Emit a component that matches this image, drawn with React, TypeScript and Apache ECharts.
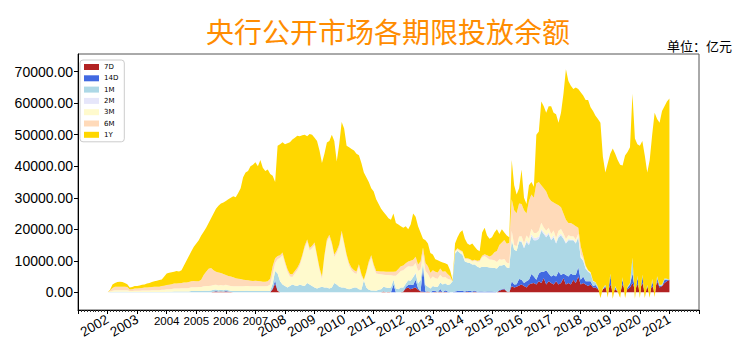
import React, { useEffect, useRef } from "react";
import * as echarts from "echarts";

const titleText = "央行公开市场各期限投放余额";
const unitText = "单位：亿元";
const seriesNames = ["7D", "14D", "1M", "2M", "3M", "6M", "1Y"];
const seriesColors = ["#B22222", "#4169E1", "#ADD8E6", "#E6E6FA", "#FFFACD", "#FFDAB9", "#FFD700"];
const axisStartYear = 2001;
const axisEndYear = 2022;
const firstYear = 2002; // monthly observations from Jan 2002 to Jan 2021
const yTickValues = [0, 10000, 20000, 30000, 40000, 50000, 60000, 70000];
const flatYears = [2004, 2005, 2006, 2007];

// 7D
const d7 = [
  0,0,0,0,0,0,0,0,0,0,0,0, // 2002
  0,0,0,0,0,0,0,0,0,0,0,0, // 2003
  0,0,0,0,0,0,0,0,0,0,0,0, // 2004
  0,0,0,0,0,0,0,200,300,200,300,200, // 2005
  300,200,100,0,0,0,0,0,0,0,0,0, // 2006
  0,0,0,0,0,0,0,1000,2800,500,0,0, // 2007
  0,0,0,0,0,0,0,0,0,0,0,0, // 2008
  0,0,0,0,0,0,0,0,0,0,0,0, // 2009
  0,0,0,0,0,0,0,0,0,0,0,0, // 2010
  0,0,0,0,300,0,200,0,0,0,0,0, // 2011
  300,1200,1500,1000,1300,1500,800,300,200,0,300,0, // 2012
  0,200,0,300,0,200,0,0,0,0,0,0, // 2013
  0,0,200,0,0,300,0,0,0,0,0,0, // 2014
  0,0,0,500,800,1000,300,0,2000,1500,1800,2200, // 2015
  2500,2000,1500,2500,2800,3000,2500,3500,3000,4500,2500,3500, // 2016
  3000,2500,3500,2500,3000,4500,2500,3000,2500,4000,3000,5000, // 2017
  2500,3000,2500,2000,2500,1500,1500,1000,300,1000,1500,200, // 2018
  2500,500,1000,300,300,2500,800,1000,1500,3000,1000,2500, // 2019
  1000,3000,500,1500,300,2000,500,3500,1500,2000,3000,3500, // 2020
  4000, // 2021
];

// 14D
const d14 = [
  0,0,0,0,0,0,0,0,0,0,0,0,
  0,0,0,0,0,0,0,0,0,0,0,0,
  0,0,0,0,0,0,0,0,0,0,0,0,
  0,0,0,0,0,0,0,0,100,0,0,0,
  100,100,0,0,0,0,0,0,0,0,0,0,
  0,0,0,0,0,0,0,300,1000,0,0,0,
  0,0,0,0,0,0,0,0,0,0,0,0,
  0,0,0,0,0,0,0,0,0,0,0,0,
  0,0,0,0,0,0,0,0,0,0,0,0,
  0,0,0,0,0,0,0,0,2500,0,0,0,
  0,500,800,1500,1000,2500,500,0,7500,300,0,0,
  500,300,0,800,0,500,300,0,0,300,400,500,
  400,300,300,500,300,300,200,300,300,200,300,300,
  300,200,0,300,200,300,0,0,1500,1000,800,2000,
  1500,1000,2000,1500,3000,2000,1500,2500,3500,2000,4500,2500,
  2000,3000,1500,4000,2500,1500,3000,2000,3500,1500,2500,3000,
  1500,2000,1000,1500,1000,500,800,300,0,0,500,0,
  3000,0,500,0,0,1500,0,500,1000,3000,0,2000,
  0,2000,0,500,0,1500,0,1000,500,0,1000,500,
  0,
];

// 1M
const m1 = [
  0,100,100,200,200,200,200,200,200,100,100,100,
  100,100,100,100,100,100,100,100,100,100,100,100,
  200,200,200,300,300,300,300,300,300,300,400,400,
  400,400,400,500,500,500,600,600,500,500,500,500,
  500,400,400,400,400,400,400,400,500,500,400,400,
  400,400,400,400,400,400,500,1500,3000,5500,3500,2500,
  2000,1500,2000,2500,2200,2000,2500,2200,2000,3000,2500,2000,
  1500,1200,1500,1800,1500,1500,1200,1500,3000,2500,1800,1500,
  1500,1200,1000,1200,1500,1500,1000,800,3800,1500,800,600,
  600,500,800,1000,1500,1500,1200,1500,1500,1200,1000,1500,
  1200,1000,1500,1200,2500,2000,1500,3500,1500,2000,1500,1200,
  1500,1200,1800,2000,2500,2200,2000,2600,3500,12000,12800,12000,
  11500,9500,9000,8800,8500,8200,8000,7500,7800,7800,7700,7600,
  7500,7500,7600,7700,7500,7500,7600,7700,13000,11000,10500,12000,
  12000,11000,12500,11000,12000,11500,12500,11000,13000,12000,10500,12500,
  11500,12000,10500,11000,12500,11000,10000,11500,10500,11000,10000,9500,
  7000,5000,4000,3000,2500,1500,800,500,0,300,400,0,
  500,0,500,0,0,800,0,300,500,5000,0,800,
  300,600,0,400,0,800,0,600,300,500,400,300,
  0,
];

// 2M
const m2 = [
  0,0,0,0,0,0,0,0,0,0,0,0,
  0,0,0,0,0,0,0,0,0,0,0,0,
  0,0,0,0,0,0,0,0,0,0,0,0,
  0,0,0,0,0,0,0,0,0,0,0,0,
  0,0,0,0,0,0,0,0,0,0,0,0,
  0,0,0,0,0,0,0,0,0,0,0,0,
  0,0,0,0,0,0,0,0,0,0,0,0,
  0,0,0,0,0,0,0,0,0,0,0,0,
  0,0,0,0,0,0,0,0,0,0,0,0,
  0,0,0,0,0,0,0,0,0,0,0,0,
  0,0,0,0,0,300,0,0,0,0,0,0,
  0,0,0,0,0,0,0,0,0,0,0,0,
  0,0,0,0,0,0,0,0,0,0,0,0,
  0,0,0,0,0,0,0,0,0,0,0,0,
  300,400,500,600,600,800,800,700,600,600,500,500,
  500,600,500,500,600,500,400,400,300,300,300,300,
  300,200,200,200,100,0,0,0,0,0,0,0,
  0,0,0,0,0,0,0,0,0,0,0,0,
  0,0,0,0,0,0,0,0,0,0,0,0,
  0,
];

// 3M
const m3 = [
  0,200,400,500,500,500,500,500,500,300,300,400,
  400,400,500,500,500,500,600,600,600,600,700,700,
  800,800,900,900,900,900,1000,1000,1000,1100,1200,1200,
  1200,1300,1300,1400,1500,1500,1500,1500,1500,1500,1500,1500,
  1500,1500,1500,1500,1500,1500,1500,1500,1500,1500,1500,1500,
  1500,1500,1500,1500,1500,1600,2000,3000,2500,4500,7500,9300,
  7000,5000,3000,2400,3800,5000,6000,8800,12000,13000,10800,12000,
  13500,9800,5500,2400,9500,14500,16300,13500,8200,10000,12600,17200,
  13500,10000,7500,5800,4700,4300,7100,4200,0,4500,8200,10400,
  7400,5500,5000,4700,3800,4000,4100,3900,1300,4100,5000,5300,
  5500,5000,4500,4500,3500,3000,4000,3500,3000,4500,4000,3000,
  3000,2800,2500,2500,2200,2000,2000,1500,0,500,500,600,
  800,800,1000,1000,1000,1200,1500,2000,3000,3500,3000,2500,
  2500,2500,2000,2000,1800,1800,1500,1500,3000,1500,1500,1500,
  1500,1200,1500,1500,1800,1500,1500,1800,2000,1500,1500,1500,
  1500,1500,1200,1500,1500,1200,1000,1200,1000,1000,1000,800,
  800,500,500,300,300,200,100,0,-2100,0,0,-1800,
  0,-2500,0,0,-2000,0,-2600,0,0,0,-3000,0,
  -3100,0,-2300,0,-2000,0,-2000,0,0,0,0,0,
  0,
];

// 6M
const m6 = [
  0,300,900,1100,1100,1100,1100,1100,1000,500,600,700,
  700,800,800,900,900,1000,1000,1100,1100,1100,1200,1300,
  1300,1400,1500,1600,1600,1700,1700,1800,1800,1900,1900,2000,
  1900,1800,2300,3600,4500,5500,5600,4700,4100,4100,3800,3600,
  3100,3000,3000,2900,2600,2400,2300,2100,1900,1800,1800,1700,
  1800,1700,1600,1500,1500,1500,1800,2500,1500,1000,800,800,
  800,800,800,800,800,800,800,800,800,800,800,800,
  800,800,800,800,800,800,800,800,800,800,800,800,
  800,800,800,800,800,800,800,800,200,600,800,800,
  800,800,900,900,1000,1000,1000,1100,1200,1300,1400,1500,
  1500,1500,1500,1800,2000,2000,2000,2500,2000,2500,2500,2000,
  2000,2000,2000,2000,1800,1800,1500,1000,0,300,300,300,
  300,300,300,300,300,300,300,400,500,600,800,1000,
  1500,2500,3500,4500,5500,6000,6000,6500,10000,11000,10500,10500,
  10200,10400,7000,11900,10800,11200,15700,15500,11900,12400,12500,9500,
  10500,8900,10800,8100,6900,6300,6100,3900,4200,3700,4200,1900,
  2500,1000,300,0,0,0,0,0,0,0,0,0,
  0,0,0,0,0,0,0,0,0,0,0,0,
  0,0,0,0,0,0,0,0,0,0,0,0,
  0,
];

// 1Y
const y1 = [
  0,200,1100,1200,1500,1600,1500,1200,900,600,700,800,
  800,900,1000,1000,1300,1400,1600,1700,1900,2100,2100,2900,
  3700,3800,3800,3700,4000,3700,4000,5400,6900,8200,9500,10900,
  12000,13000,14000,13700,14000,14500,15800,18000,20000,21200,22100,22700,
  23500,24300,25000,25700,25700,27200,28800,32500,34100,34700,36300,36900,
  37600,36400,38500,36100,35100,35500,33200,28700,24200,35000,35200,35000,
  37200,40000,41800,42800,42200,41900,40200,38000,35200,32700,36100,35200,
  33200,36200,37200,36000,32200,30700,29700,34200,36000,28200,31800,34500,
  36200,34500,36700,37700,38000,37400,34600,35200,34000,29900,25200,21200,
  23200,22700,21300,19900,18900,18000,17000,16500,18500,15400,14100,12700,
  12000,11800,10200,11500,14700,12700,12200,9200,2800,7200,7200,6300,
  5000,4000,3900,2200,3000,2500,3000,1900,500,2400,3500,5600,
  6700,6100,4700,4400,5400,4200,3500,2800,7400,8400,6200,5600,
  5700,6300,6900,3500,4200,2400,2600,1800,12500,8000,5900,4800,
  11000,4000,3000,5000,4000,3500,15500,16000,26500,26000,25000,29000,
  30000,28500,28500,26200,30000,38000,47800,45000,43500,43000,44000,44000,
  48900,50700,52500,54000,52300,53800,52800,53200,55600,41700,35600,42600,
  38000,47600,42000,41700,42200,35400,45200,42700,43000,52000,50800,41700,
  48300,42400,45200,35600,43700,45700,58500,49900,51500,55000,54600,56200,
  57500,
];

const seriesValues = [d7, d14, m1, m2, m3, m6, y1];
// monthly category slots covering the whole axis span, 2001-01 .. 2022-01
const monthSlots = Array.from(
  { length: (axisEndYear - axisStartYear) * 12 + 1 },
  (_, j) => axisStartYear + j / 12
);
const offset = (firstYear - axisStartYear) * 12;

export default function App() {
  const ref = useRef<HTMLDivElement>(null);

  useEffect(() => {
    document.body.style.margin = "0";
    if (!ref.current) return;
    const chart = echarts.init(ref.current, undefined, { renderer: "svg" });
    const axisFont = "Liberation Sans, Arial, sans-serif";
    const yearAxisBase = {
      type: "value",
      min: axisStartYear,
      max: axisEndYear,
      interval: 1,
      position: "bottom",
      splitLine: { show: false },
    };
    chart.setOption({
      animation: false,
      backgroundColor: "#ffffff",
      title: {
        text: titleText,
        left: 206,
        top: 17,
        padding: 0,
        textStyle: {
          fontSize: 28,
          fontWeight: "normal",
          color: "#FF8C00",
          fontFamily: "Noto Sans CJK SC",
        },
      },
      graphic: [
        {
          type: "text",
          left: 667,
          top: 39,
          style: {
            text: unitText,
            fontSize: 13,
            fill: "#000",
            fontFamily: "Noto Sans CJK SC",
          },
        },
      ],
      legend: {
        orient: "vertical",
        left: 80,
        top: 60,
        padding: [3, 6, 3, 4],
        itemWidth: 15,
        itemHeight: 6,
        itemGap: 3.3,
        icon: "rect",
        borderColor: "#cccccc",
        borderWidth: 1,
        borderRadius: 3,
        backgroundColor: "#ffffff",
        data: seriesNames,
        textStyle: { fontSize: 7, lineHeight: 8, color: "#000", fontFamily: "DejaVu Sans" },
      },
      grid: {
        left: 78,
        right: 51,
        top: 54,
        bottom: 44,
        show: true,
        borderColor: "#555",
        borderWidth: 1,
      },
      xAxis: [
        {
          type: "category",
          data: monthSlots,
          boundaryGap: false,
          show: false,
          axisLine: { onZero: false },
        },
        {
          ...yearAxisBase,
          axisLine: { show: true, onZero: false, lineStyle: { color: "#000" } },
          axisTick: { show: true, length: 4, lineStyle: { color: "#000" } },
          minorTick: { show: true, splitNumber: 10, length: 2, lineStyle: { color: "#333" } },
          axisLabel: {
            rotate: 30,
            margin: 8,
            fontSize: 13.5,
            color: "#000",
            fontFamily: axisFont,
            formatter: (v: number) =>
              v >= 2002 && v <= 2021 && flatYears.indexOf(v) < 0 ? String(v) : "",
          },
        },
        {
          ...yearAxisBase,
          axisLine: { show: false, onZero: false },
          axisTick: { show: false },
          axisLabel: {
            rotate: 0,
            margin: 5,
            fontSize: 11.5,
            color: "#000",
            fontFamily: axisFont,
            formatter: (v: number) => (flatYears.indexOf(v) >= 0 ? String(v) : ""),
          },
        },
      ],
      yAxis: {
        type: "value",
        min: -5600,
        max: 75600,
        axisLine: { show: true, lineStyle: { color: "#000" } },
        axisTick: { show: true, length: 4, customValues: yTickValues, lineStyle: { color: "#000" } },
        splitLine: { show: false },
        axisLabel: {
          customValues: yTickValues,
          margin: 5,
          fontSize: 14,
          color: "#000",
          fontFamily: axisFont,
          formatter: (v: number) => v.toFixed(2),
        },
      },
      series: seriesNames.map((name, k) => ({
        name,
        type: "line",
        xAxisIndex: 0,
        yAxisIndex: 0,
        stack: "total",
        stackStrategy: "all",
        symbol: "none",
        showSymbol: false,
        color: seriesColors[k],
        lineStyle: { width: 0, opacity: 0 },
        areaStyle: { color: seriesColors[k], opacity: 1 },
        emphasis: { disabled: true },
        data: monthSlots.map((_, j) => {
          const i = j - offset;
          return i >= 0 && i < seriesValues[k].length ? seriesValues[k][i] : null;
        }),
      })),
    });
    return () => chart.dispose();
  }, []);

  return <div ref={ref} style={{ width: 750, height: 354 }} />;
}
